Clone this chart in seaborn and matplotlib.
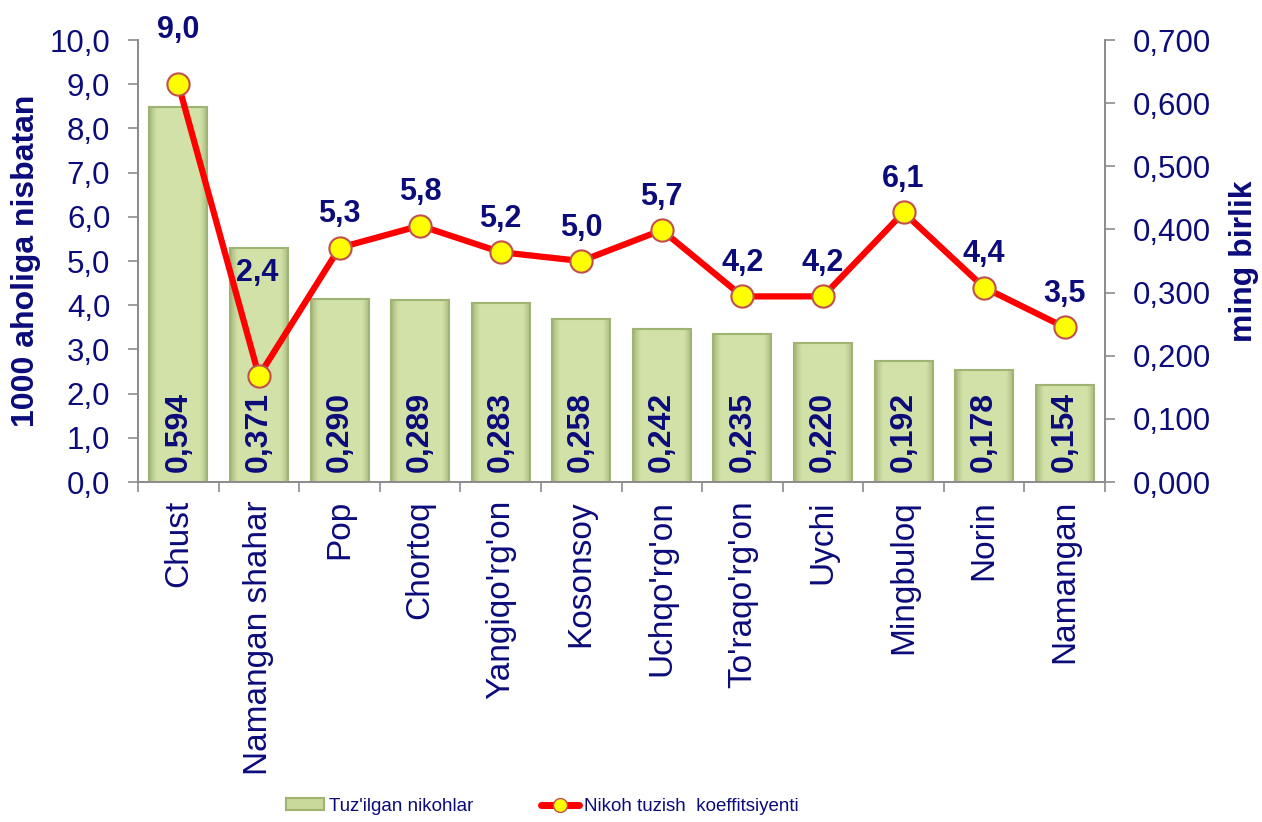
import matplotlib
matplotlib.use("Agg")
import matplotlib.pyplot as plt
import seaborn as sns
import numpy as np
from matplotlib.patches import Patch
from matplotlib.lines import Line2D

categories = ["Chust", "Namangan shahar", "Pop", "Chortoq", "Yangiqo'rg'on", "Kosonsoy",
              "Uchqo'rg'on", "To'raqo'rg'on", "Uychi", "Mingbuloq", "Norin", "Namangan"]
marriages = [0.594, 0.371, 0.290, 0.289, 0.283, 0.258, 0.242, 0.235, 0.220, 0.192, 0.178, 0.154]
coef = [9.0, 2.4, 5.3, 5.8, 5.2, 5.0, 5.7, 4.2, 4.2, 6.1, 4.4, 3.5]
left_ticks = [0, 1, 2, 3, 4, 5, 6, 7, 8, 9, 10]
right_ticks = [0.0, 0.1, 0.2, 0.3, 0.4, 0.5, 0.6, 0.7]

NAVY = "#0b0b7a"
GRAY = "#8c8c8c"

sns.set_theme(style="white")
plt.rcParams['font.family'] = ['Liberation Sans', 'DejaVu Sans']

fig = plt.figure(figsize=(12.62, 8.22), dpi=100)
ax = fig.add_axes([0.1094, 0.4136, 0.7662, 0.5377])
ax2 = ax.twinx()

# bars on right axis
sns.barplot(x=categories, y=marriages, ax=ax2, color="#d2e2a9", width=0.72,
            edgecolor="#9fb373", linewidth=1.5, saturation=1)

# bevel-like shading inside each bar
edge_c = np.array([0.62, 0.69, 0.46])
center_c = np.array([0.82, 0.885, 0.655])
t = np.linspace(0, 1, 80)
d = np.minimum(t, 1 - t)
f = np.clip(d / 0.13, 0, 1) ** 0.7
row = edge_c[None, :] * (1 - f[:, None]) + center_c[None, :] * f[:, None]
grad = row[None, :, :]
for p in list(ax2.patches):
    x0, y0, w, h = p.get_x(), p.get_y(), p.get_width(), p.get_height()
    im = ax2.imshow(grad, extent=[x0, x0 + w, y0, y0 + h], aspect="auto",
                    interpolation="bilinear", zorder=1.5)
    im.set_clip_path(p)
    p.set_facecolor("none")
    p.set_zorder(2)

ax2.set_ylim(0, 0.7)
ax2.set_yticks(right_ticks)
ax2.set_yticklabels([f"{v:.3f}".replace(".", ",") for v in right_ticks], fontsize=22.5, color=NAVY)
ax2.set_ylabel("ming birlik", fontsize=23, fontweight="bold", color=NAVY, labelpad=13)

for i, v in enumerate(marriages):
    ax2.text(i, 0.016, f"{v:.3f}".replace(".", ","), rotation=90, ha="center", va="bottom",
             fontsize=23, fontweight="bold", color=NAVY, zorder=3)

# line on left axis
sns.pointplot(x=categories, y=coef, ax=ax, color="red", markers="o", linestyles="-",
              errorbar=None)
for ln in ax.lines:
    ln.set_linewidth(4.5)
    ln.set_markersize(16)
    ln.set_markerfacecolor("#ffff00")
    ln.set_markeredgecolor("#c0504d")
    ln.set_markeredgewidth(1.5)
    ln.set_color("red")
    ln.set_zorder(5)

offsets = [(0, 39), (-1, 74)] + [(0, 24)] * 10
for i, v in enumerate(coef):
    ax.annotate(f"{v:.1f}".replace(".", ","), (i, v), xytext=offsets[i], textcoords="offset points",
                ha="center", va="center", fontsize=22, fontweight="bold", color=NAVY, zorder=6)

ax.set_ylim(0, 10)
ax.set_yticks(left_ticks)
ax.set_yticklabels([f"{v:.1f}".replace(".", ",") for v in left_ticks], fontsize=22.5, color=NAVY)
ax.set_ylabel("1000 aholiga nisbatan", fontsize=23, fontweight="bold", color=NAVY, labelpad=6)
ax.set_zorder(ax2.get_zorder() + 1)
ax.patch.set_visible(False)

for a in (ax, ax2):
    a.set_xlim(-0.5, len(categories) - 0.5)
    a.set_xticks(range(len(categories)))
    a.set_xticks(np.arange(-0.5, len(categories), 1.0), minor=True)
    a.tick_params(axis="x", which="major", length=0)
    a.tick_params(axis="x", which="minor", length=7, width=1.2, color=GRAY, direction="out")
    a.tick_params(axis="y", length=7, width=1.2, color=GRAY, direction="out", pad=13)
    for s in a.spines.values():
        s.set_color(GRAY)
        s.set_linewidth(1.3)
    a.spines["top"].set_visible(False)
    a.set_xlabel("")
    a.grid(False)

ax2.set_ylim(0, 0.7)
ax.tick_params(axis="y", left=True, right=False)
ax2.tick_params(axis="y", right=True, left=False)
ax.tick_params(axis="x", which="minor", bottom=True)
ax2.tick_params(axis="x", which="both", bottom=False, labelbottom=False)
ax.set_xticklabels(categories, rotation=90, fontsize=24, color=NAVY)
ax.tick_params(axis="x", which="major", pad=13)

handles = [Patch(facecolor="#c9d99c", edgecolor="#9fb373", linewidth=1.5),
           Line2D([0], [0], color="red", linewidth=5, marker="o", markersize=10,
                  markerfacecolor="#ffff00", markeredgecolor="#c0504d")]
leg = fig.legend(handles, ["Tuz'ilgan nikohlar", "Nikoh tuzish  koeffitsiyenti"], loc="center",
                 bbox_to_anchor=(0.43, 0.019), ncol=2, frameon=False,
                 prop={'size': 13.5},
                 columnspacing=3.6, handlelength=2.0, handleheight=0.6, handletextpad=0.3)
for t_ in leg.get_texts():
    t_.set_color(NAVY)

fig.savefig("out.png", dpi=100)
